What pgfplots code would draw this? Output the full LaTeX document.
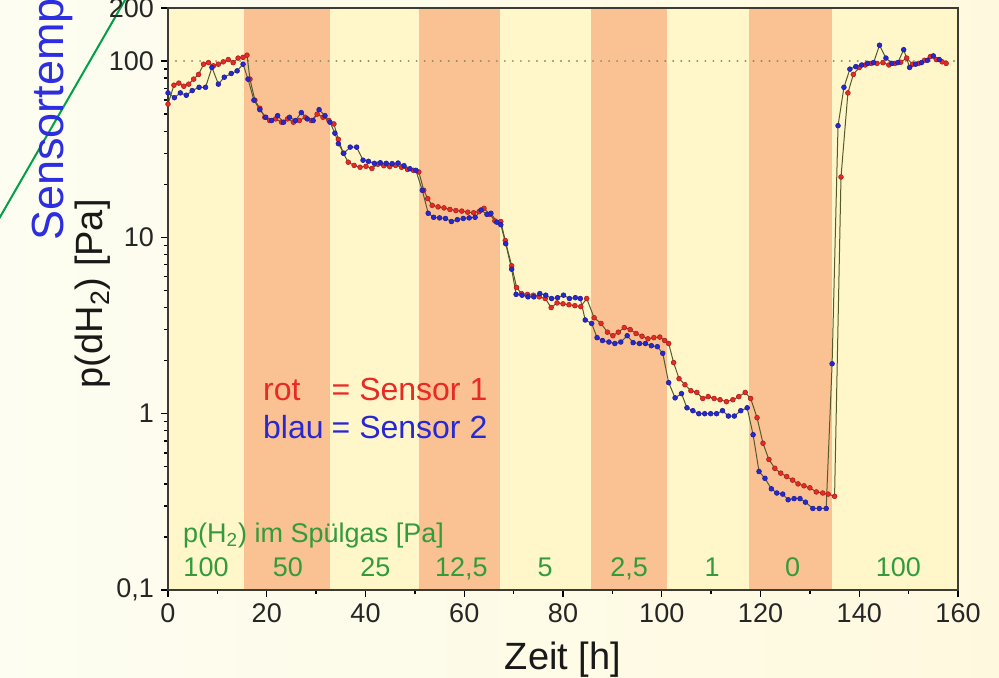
\documentclass[border=0pt]{standalone}
\usepackage{fontspec}
\setmainfont{Liberation Sans}
\usepackage{pgfplots}
\pgfplotsset{compat=1.18}

\definecolor{bgleft}{RGB}{253,253,241}
\definecolor{bgright}{RGB}{254,249,222}
\definecolor{bandY}{RGB}{255,247,202}
\definecolor{bandO}{RGB}{250,194,146}
\definecolor{sred}{RGB}{232,42,36}
\definecolor{sblue}{RGB}{40,40,210}
\definecolor{linkline}{RGB}{85,90,45}
\definecolor{lblgreen}{RGB}{50,155,60}
\definecolor{refdot}{RGB}{140,140,100}
\definecolor{titleblue}{RGB}{45,45,225}
\definecolor{curvegreen}{RGB}{0,160,70}
\definecolor{framegray}{RGB}{60,60,50}

% Sensor 1 (rot)
\pgfplotstableread{
x y
0 57
1.2 73
2.2 75
3.2 72
4.2 74
5.2 79
6.2 84
7.2 96
8.2 98
9.2 94
10.2 96
11.2 99
12.2 102
13.2 98
14.2 104
15.2 105
16.0 108
16.6 79
17.6 60
18.6 54
19.6 48
20.6 46
21.8 47
23.0 45
24.2 47
25.4 45
26.6 46
27.8 48
29.0 46
30.2 50
31.4 48
32.6 46
33.6 44
34.5 36
35.5 30
36.5 26.7
37.7 25.6
38.9 25
40.1 25.3
41.3 24.6
42.5 26
43.7 25.5
44.9 25.2
46.1 25.6
47.3 25
48.5 24.3
49.7 24
50.8 23.5
51.8 18.5
52.6 16.6
53.5 15.2
54.7 14.9
55.9 14.7
57.1 14.4
58.3 14.2
59.5 14.1
60.7 13.9
61.9 13.8
63.0 14.0
64.0 14.6
65.2 13.5
66.2 12.4
67.4 12.3
68.3 9.6
69.6 6.9
70.6 5.2
71.6 4.8
72.8 4.75
74.0 4.7
75.2 4.6
76.4 4.5
77.6 4.0
78.8 4.25
80.0 4.2
81.2 4.15
82.4 4.1
83.6 4.05
84.8 4.5
86.3 3.5
87.7 3.25
89.0 2.9
90.1 2.77
91.2 2.9
92.4 3.08
93.6 3.0
94.8 2.85
96.0 2.75
97.2 2.66
98.4 2.7
99.6 2.72
100.6 2.6
101.4 2.5
102.4 1.95
103.5 1.58
104.7 1.46
105.9 1.35
107.1 1.32
108.3 1.22
109.4 1.25
110.6 1.22
111.8 1.2
113.1 1.17
114.4 1.2
115.6 1.25
116.9 1.32
118.0 1.22
119.3 0.95
120.5 0.68
121.7 0.55
122.9 0.49
124.1 0.46
125.3 0.44
126.5 0.42
127.6 0.40
128.8 0.39
130.0 0.38
131.3 0.36
132.6 0.355
133.7 0.35
135.0 0.34
136.3 22
137.7 66
138.8 84
140.0 92
141.2 95
142.4 97
143.6 97
144.8 98
146.0 95
147.2 97
148.4 98.5
149.6 104
150.8 96
152.0 97
153.2 101
154.4 106
155.6 102
156.8 99
157.6 97
}\sensorA

% Sensor 2 (blau)
\pgfplotstableread{
x y
0 66
1.3 62
2.5 66
3.7 64
4.9 68
6.3 71
7.6 71
8.9 92
10.2 74
11.4 81
12.8 85
14.0 88
15.2 96
16.2 79
17.4 60
18.6 53
19.8 48
21.0 46
22.2 49
23.4 45
24.6 48
25.8 46
27.0 51
28.2 47
29.4 46
30.6 53
31.8 49
32.8 45
33.8 39
34.5 34
35.6 30
36.9 32.5
38.2 32.5
39.5 27.4
40.6 27
41.8 26.3
43.0 26.5
44.2 26.3
45.4 26.2
46.6 26.4
47.8 25.5
49.0 24.5
50.2 24
51.5 18.5
52.7 13.7
53.8 13
55.0 12.9
56.2 12.8
57.4 12.3
58.6 12.6
59.8 12.8
61.0 12.9
62.2 13
63.4 14.3
64.6 13.5
65.4 13.7
66.6 12.2
67.4 11.8
68.4 9.2
69.6 6.6
70.5 4.75
71.7 4.7
72.9 4.6
74.1 4.6
75.3 4.8
76.5 4.7
77.7 4.5
78.9 4.55
80.1 4.7
81.3 4.5
82.5 4.55
83.5 4.5
84.5 3.4
85.8 3.25
86.9 2.7
88.0 2.6
89.3 2.55
90.5 2.5
91.7 2.55
93.0 2.77
94.2 2.53
95.5 2.5
96.7 2.5
97.9 2.43
99.1 2.4
100.2 2.2
101.4 1.5
102.7 1.23
104.0 1.3
105.1 1.08
106.3 1.04
107.5 1.0
108.7 1.0
109.9 1.0
111.1 1.0
112.3 1.04
113.5 0.97
114.7 0.97
116.0 1.04
117.3 1.08
118.5 0.76
119.7 0.47
120.9 0.43
122.2 0.375
123.3 0.355
124.5 0.35
125.6 0.325
126.8 0.33
128.0 0.33
129.1 0.315
130.6 0.29
131.9 0.29
133.3 0.29
134.5 1.92
135.7 43
136.9 71
138.1 90
139.3 93
140.5 95
141.7 97
142.9 98
144.1 123
145.4 104
146.6 97
147.8 98
149.0 116
150.2 92
151.4 96
152.6 98
153.8 101
155.0 107
156.2 102
}\sensorB

\begin{document}
\begin{tikzpicture}
\clip (0pt,0pt) rectangle (499.5pt,338.5pt);
\shade[left color=bgleft, right color=bgright] (0pt,0pt) rectangle (499.5pt,338.5pt);

% neighbouring curve and its axis title
\draw[curvegreen, line width=1pt] (-10pt,212.6pt) -- (70pt,351.5pt);
\node[rotate=90, anchor=base west, inner sep=0pt, text=titleblue,
      font=\fontsize{22.5}{27}\selectfont] at (32pt,218pt) {Sensortemperatur [°C]};

\begin{axis}[
  at={(84pt,43.5pt)}, anchor=south west,
  scale only axis, width=395pt, height=291pt,
  xmin=0, xmax=160,
  ymode=log, ymin=0.1, ymax=200,
  axis on top,
  axis line style={framegray, line width=1pt},
  tick align=outside,
  xtick pos=left, ytick pos=left,
  tick style={black, line width=0.7pt},
  major tick length=3.5pt, minor tick length=2pt,
  xtick={0,20,...,160},
  minor xtick={10,30,...,150},
  ytick={0.1,1,10,100,200},
  yticklabels={{0,1},1,10,100,200},
  minor ytick={0.2,0.3,0.4,0.5,0.6,0.7,0.8,0.9,2,3,4,5,6,7,8,9,20,30,40,50,60,70,80,90},
  /pgf/number format/assume math mode=true,
  tick label style={font=\fontsize{13.5}{15}\selectfont, text=black!85},
  xlabel={Zeit [h]},
  ylabel={p(dH\textsubscript{2}) [Pa]},
  every axis x label/.style={at={(axis description cs:0.5,-0.12)}, anchor=center,
    font=\fontsize{19}{22}\selectfont, text=black!90},
  every axis y label/.style={at={(axis description cs:-0.095,0.509)}, rotate=90, anchor=center,
    font=\fontsize{19}{22}\selectfont, text=black!90},
]
% purge gas phases
\fill[bandY] (axis cs:0,0.1) rectangle (axis cs:160,200);
\fill[bandO] (axis cs:15.4,0.1) rectangle (axis cs:32.8,200);
\fill[bandO] (axis cs:50.8,0.1) rectangle (axis cs:67.2,200);
\fill[bandO] (axis cs:85.6,0.1) rectangle (axis cs:101.0,200);
\fill[bandO] (axis cs:117.7,0.1) rectangle (axis cs:134.5,200);

% 100 Pa reference
\addplot[refdot, line width=1.1pt, dash pattern=on 0.01pt off 4pt, line cap=round]
  coordinates {(0,100) (160,100)};

\addplot[linkline, line width=0.5pt, mark=*, mark size=1.2pt,
  mark options={fill=sred, draw=sred!75!black, line width=0.3pt}] table[x=x,y=y] {\sensorA};
\addplot[linkline, line width=0.5pt, mark=*, mark size=1.2pt,
  mark options={fill=sblue, draw=sblue!75!black, line width=0.3pt}] table[x=x,y=y] {\sensorB};

% sensor key
\node[anchor=base west, inner sep=0pt, font=\fontsize{16}{19}\selectfont] at (axis cs:19.2,1.185)
  {\begin{tabular}[t]{@{}l@{\hspace{4pt}}l@{}}
   \textcolor{sred}{rot} & \textcolor{sred}{= Sensor 1}\\
   \textcolor{sblue}{blau} & \textcolor{sblue}{= Sensor 2}
   \end{tabular}};

% hydrogen partial pressure in the purge gas
\begin{scope}[every node/.style={text=lblgreen, font=\fontsize{13.5}{15}\selectfont, inner sep=0pt}]
\node[anchor=base west] at (axis cs:3.0,0.187) {p(H\textsubscript{2}) im Spülgas [Pa]};
\node[anchor=base] at (axis cs:7.7,0.120) {100};
\node[anchor=base] at (axis cs:24.3,0.120) {50};
\node[anchor=base] at (axis cs:42.0,0.120) {25};
\node[anchor=base] at (axis cs:59.4,0.120) {12,5};
\node[anchor=base] at (axis cs:76.4,0.120) {5};
\node[anchor=base] at (axis cs:93.4,0.120) {2,5};
\node[anchor=base] at (axis cs:110.2,0.120) {1};
\node[anchor=base] at (axis cs:126.5,0.120) {0};
\node[anchor=base] at (axis cs:147.9,0.120) {100};
\end{scope}
\end{axis}
\end{tikzpicture}
\end{document}
